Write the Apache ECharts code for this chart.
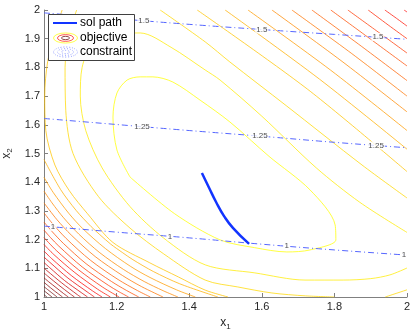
<!DOCTYPE html>
<html>
<head>
<meta charset="utf-8">
<script src="https://cdn.jsdelivr.net/npm/echarts@6/dist/echarts.min.js"></script>
<style>
html, body { margin: 0; padding: 0; background: #fff; }
#chart { width: 415px; height: 335px; }
</style>
</head>
<body>
<div id="chart"></div>
<script>
// axis ticks
const xTicks = [1, 1.2, 1.4, 1.6, 1.8, 2];
const yTicks = [1, 1.1, 1.2, 1.3, 1.4, 1.5, 1.6, 1.7, 1.8, 1.9, 2];

// objective contours, innermost (lvl0) to outermost (lvl22), each a list of pieces [x1, x2]
const lvl0 = [[[1.237,1.418],[1.201,1.512],[1.190,1.627],[1.201,1.711],[1.229,1.756],[1.265,1.767],[1.300,1.767],[1.355,1.749],[1.430,1.686],[1.512,1.610],[1.620,1.490],[1.733,1.373],[1.802,1.251],[1.804,1.199],[1.733,1.164],[1.669,1.157],[1.580,1.172],[1.485,1.199],[1.360,1.290],[1.237,1.418]]];
const lvl1 = [[[2,1.101],[1.953,1.077],[1.900,1.064],[1.824,1.059],[1.719,1.059],[1.581,1.084],[1.444,1.112],[1.330,1.205],[1.237,1.315],[1.160,1.450],[1.115,1.580],[1.100,1.700],[1.105,1.800],[1.130,1.875],[1.190,1.918],[1.265,1.920],[1.350,1.870],[1.444,1.791],[1.485,1.756],[1.600,1.630],[1.750,1.450],[1.870,1.330],[2,1.225]]];
const lvl2 = [
  [[1.320,2],[1.444,1.889],[1.512,1.819],[1.667,1.667],[1.876,1.460],[2,1.345]],
  [[1.090,2],[1.070,1.920],[1.058,1.800],[1.060,1.650],[1.080,1.500],[1.150,1.350],[1.237,1.240],[1.330,1.150],[1.444,1.059],[1.534,1.035],[1.628,1.014],[1.720,1.004],[1.800,1]],
  [[1.940,1],[2,1.025]]
];
const lvl3 = [
  [[1.422,2],[1.725,1.725],[2,1.437]],
  [[1.507,1],[1.444,1.024],[1.370,1.070],[1.290,1.120],[1.190,1.190],[1.120,1.290],[1.070,1.370],[1.030,1.460],[1.005,1.580],[1.002,1.700],[1.010,1.820],[1.030,1.920],[1.050,2]]
];
const lvl4 = [
  [[1.499,2],[1.759,1.759],[2,1.515]],
  [[1,1.479],[1.046,1.374],[1.089,1.301],[1.130,1.245],[1.154,1.217],[1.184,1.184],[1.217,1.154],[1.245,1.130],[1.301,1.089],[1.374,1.046],[1.479,1]]
];
const lvl5 = [
  [[1.562,2],[1.790,1.790],[2,1.580]],
  [[1,1.417],[1.025,1.365],[1.068,1.292],[1.107,1.238],[1.169,1.169],[1.238,1.107],[1.292,1.068],[1.365,1.025],[1.417,1]]
];
const lvl6 = [
  [[1.628,2],[1.821,1.821],[2,1.645]],
  [[1,1.369],[1.022,1.328],[1.054,1.276],[1.096,1.219],[1.154,1.154],[1.219,1.096],[1.276,1.054],[1.328,1.022],[1.369,1]]
];
const lvl7 = [
  [[1.683,2],[1.848,1.848],[2,1.700]],
  [[1,1.328],[1.036,1.269],[1.075,1.216],[1.141,1.141],[1.216,1.075],[1.269,1.036],[1.328,1]]
];
const lvl8 = [
  [[1.738,2],[1.874,1.874],[2,1.754]],
  [[1,1.293],[1.022,1.258],[1.061,1.204],[1.128,1.128],[1.204,1.061],[1.258,1.022],[1.293,1]]
];
const lvl9 = [
  [[1.790,2],[1.899,1.899],[2,1.805]],
  [[1,1.261],[1.023,1.227],[1.054,1.186],[1.116,1.116],[1.186,1.054],[1.227,1.023],[1.261,1]]
];
const lvl10 = [
  [[1.837,2],[1.922,1.922],[2,1.850]],
  [[1,1.233],[1.018,1.207],[1.041,1.177],[1.105,1.105],[1.177,1.041],[1.207,1.018],[1.233,1]]
];
const lvl11 = [
  [[1.893,2],[1.948,1.948],[2,1.900]],
  [[1,1.207],[1.034,1.162],[1.095,1.095],[1.162,1.034],[1.207,1]]
];
const lvl12 = [
  [[1.939,2],[1.971,1.971],[2,1.944]],
  [[1,1.183],[1.027,1.148],[1.085,1.085],[1.148,1.027],[1.183,1]]
];
const lvl13 = [
  [[1.992,2],[2,1.993]],
  [[1,1.160],[1.021,1.134],[1.075,1.075],[1.134,1.021],[1.160,1]]
];
const lvl14 = [[[1,1.139],[1.016,1.121],[1.066,1.066],[1.121,1.016],[1.139,1]]];
const lvl15 = [[[1,1.120],[1.016,1.102],[1.057,1.057],[1.102,1.016],[1.120,1]]];
const lvl16 = [[[1,1.101],[1.008,1.092],[1.049,1.049],[1.092,1.008],[1.101,1]]];
const lvl17 = [[[1,1.084],[1.010,1.073],[1.041,1.041],[1.073,1.010],[1.084,1]]];
const lvl18 = [[[1,1.067],[1.012,1.054],[1.033,1.033],[1.054,1.012],[1.067,1]]];
const lvl19 = [[[1,1.051],[1.025,1.025],[1.051,1]]];
const lvl20 = [[[1,1.036],[1.018,1.018],[1.036,1]]];
const lvl21 = [[[1,1.022],[1.011,1.011],[1.022,1]]];
const lvl22 = [[[1,1.008],[1.004,1.004],[1.008,1]]];

const objectiveLevels = [lvl0, lvl1, lvl2, lvl3, lvl4, lvl5, lvl6, lvl7, lvl8, lvl9, lvl10, lvl11,
  lvl12, lvl13, lvl14, lvl15, lvl16, lvl17, lvl18, lvl19, lvl20, lvl21, lvl22];

// constraint contours (levels 1, 1.25, 1.5)
const cons1 = [[1,1.247],[1.2,1.226],[1.4,1.206],[1.6,1.184],[1.8,1.164],[2,1.146]];
const cons125 = [[1,1.622],[1.2,1.601],[1.4,1.580],[1.6,1.560],[1.8,1.539],[2,1.520]];
const cons15 = [[1,1.990],[1.2,1.970],[1.4,1.950],[1.6,1.932],[1.8,1.915],[2,1.898]];
const consLabels = [
  ['1', 1.025, 1.244], ['1', 1.347, 1.211], ['1', 1.669, 1.178], ['1', 1.992, 1.147],
  ['1.25', 1.27, 1.594], ['1.25', 1.595, 1.560], ['1.25', 1.915, 1.528],
  ['1.5', 1.275, 1.962], ['1.5', 1.6, 1.932], ['1.5', 1.92, 1.906]
];

// solution path
const solPath = [[1.435,1.432],[1.455,1.380],[1.474,1.331],[1.496,1.282],[1.521,1.240],[1.565,1.185]];

// colour of an objective level, from yellow (low) to dark red (high)
function levelColor(k) {
  const v = 0.75 - 0.029 * k;
  const c = t => Math.max(0, Math.min(1, t));
  const r = Math.round(255 * c(v / 0.375));
  const g = Math.round(255 * c((v - 0.375) / 0.375));
  return `rgb(${r},${g},0)`;
}

const font = '"Liberation Sans", Arial, sans-serif';
const series = [];
objectiveLevels.forEach((pieces, k) => {
  pieces.forEach(p => {
    series.push({
      type: 'line', data: p, showSymbol: false, smooth: 0.3, silent: true, z: 2,
      lineStyle: { color: levelColor(k), width: 1, opacity: 0.75 }
    });
  });
});
[cons1, cons125, cons15].forEach(c => {
  series.push({
    type: 'line', data: c, showSymbol: false, smooth: true, silent: true, z: 3,
    lineStyle: { color: '#5566ff', width: 1, type: [6, 3, 1, 3] }
  });
});
series.push({
  type: 'scatter', symbolSize: 0, silent: true, z: 4,
  data: consLabels.map(d => ({ name: d[0], value: [d[1], d[2]] })),
  label: {
    show: true, position: 'inside', formatter: '{b}', fontSize: 8, color: '#222',
    backgroundColor: '#fff', padding: [0, 1], fontFamily: font
  }
});
series.push({
  type: 'line', data: solPath, showSymbol: false, smooth: true, silent: true, z: 5,
  lineStyle: { color: '#1234ff', width: 2.5 }
});

const nameRich = {
  m: { fontSize: 12, color: '#262626' },
  s: { fontSize: 8, color: '#262626', padding: [7, 0, 0, 0] }
};

const chart = echarts.init(document.getElementById('chart'));
chart.setOption({
  animation: false,
  textStyle: { fontFamily: font },
  grid: { left: 44, right: 8, top: 10, bottom: 38, outerBoundsMode: 'none', containLabel: false },
  xAxis: {
    type: 'value', min: xTicks[0], max: xTicks[xTicks.length - 1], interval: 0.2,
    name: '{m|x}{s|1}', nameLocation: 'middle', nameGap: 15,
    nameTextStyle: { rich: nameRich },
    axisLine: { show: true, onZero: false, lineStyle: { color: '#808080' } },
    axisTick: { inside: true, length: 4, lineStyle: { color: '#808080' } },
    axisLabel: { color: '#262626', fontSize: 11, margin: 4 },
    splitLine: { show: false }
  },
  yAxis: {
    type: 'value', min: yTicks[0], max: yTicks[yTicks.length - 1], interval: 0.1,
    name: '{m|x}{s|2}', nameLocation: 'middle', nameGap: 20,
    nameTextStyle: { rich: nameRich },
    axisLine: { show: true, onZero: false, lineStyle: { color: '#808080' } },
    axisTick: { inside: true, length: 4, lineStyle: { color: '#808080' } },
    axisLabel: { color: '#262626', fontSize: 11, margin: 4 },
    splitLine: { show: false }
  },
  series: series,
  graphic: [
    { type: 'rect', z: 10, shape: { x: 48.5, y: 14.5, width: 86, height: 46 },
      style: { fill: '#fff', stroke: '#404040', lineWidth: 1 } },
    { type: 'line', z: 11, shape: { x1: 53, y1: 23, x2: 77, y2: 23 },
      style: { stroke: '#1234ff', lineWidth: 2 } },
    { type: 'circle', z: 11, x: 65.5, y: 38, scaleY: 0.42, shape: { cx: 0, cy: 0, r: 12 },
      style: { fill: 'none', stroke: levelColor(0), lineWidth: 1 } },
    { type: 'circle', z: 11, x: 65.5, y: 38, scaleY: 0.42, shape: { cx: 0, cy: 0, r: 8 },
      style: { fill: 'none', stroke: levelColor(12), lineWidth: 1 } },
    { type: 'circle', z: 11, x: 65.5, y: 38, scaleY: 0.42, shape: { cx: 0, cy: 0, r: 4 },
      style: { fill: 'none', stroke: levelColor(21), lineWidth: 1 } },
    { type: 'circle', z: 11, x: 65.5, y: 52, scaleY: 0.42, shape: { cx: 0, cy: 0, r: 12 },
      style: { fill: 'none', stroke: '#5566ff', lineWidth: 1, lineDash: [1, 2] } },
    { type: 'circle', z: 11, x: 65.5, y: 52, scaleY: 0.42, shape: { cx: 0, cy: 0, r: 8 },
      style: { fill: 'none', stroke: '#5566ff', lineWidth: 1, lineDash: [1, 2] } },
    { type: 'circle', z: 11, x: 65.5, y: 52, scaleY: 0.42, shape: { cx: 0, cy: 0, r: 4 },
      style: { fill: 'none', stroke: '#5566ff', lineWidth: 1, lineDash: [1, 2] } },
    { type: 'text', z: 11, style: { text: 'sol path', x: 80, y: 23, font: '12px ' + font, fill: '#000', verticalAlign: 'middle' } },
    { type: 'text', z: 11, style: { text: 'objective', x: 80, y: 38, font: '12px ' + font, fill: '#000', verticalAlign: 'middle' } },
    { type: 'text', z: 11, style: { text: 'constraint', x: 80, y: 52, font: '12px ' + font, fill: '#000', verticalAlign: 'middle' } }
  ]
});
</script>
</body>
</html>
